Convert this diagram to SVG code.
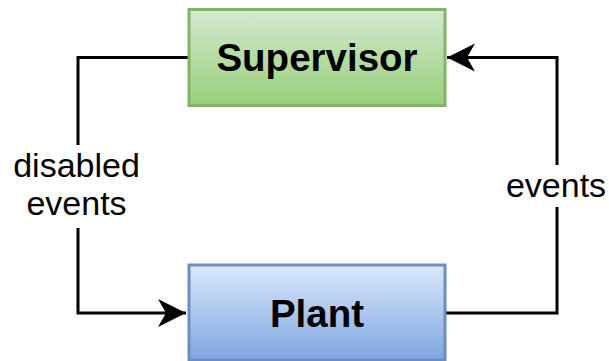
<svg xmlns="http://www.w3.org/2000/svg" width="609" height="361" viewBox="0 0 609 361">
<style>
.node{stroke-width:3}
.edge{fill:none;stroke:#000;stroke-width:3}
.lbl{font-family:"Liberation Sans",Arial,sans-serif;font-size:34px;fill:#000;text-anchor:middle}
.title{font-family:"Liberation Sans",Arial,sans-serif;font-size:38.5px;font-weight:bold;fill:#000;text-anchor:middle}
</style>
<defs>
<linearGradient id="gG" x1="0" y1="0" x2="0" y2="1"><stop offset="0" stop-color="#d5e8d4"/><stop offset="1" stop-color="#97d077"/></linearGradient>
<linearGradient id="gB" x1="0" y1="0" x2="0" y2="1"><stop offset="0" stop-color="#dae8fc"/><stop offset="1" stop-color="#7ea6e0"/></linearGradient>
<marker id="arr" markerUnits="userSpaceOnUse" markerWidth="30" markerHeight="30" viewBox="0 0 30 30" refX="28" refY="15" orient="auto">
<path d="M28,15 L0,1 L8,15 L0,29 Z" fill="#000"/>
</marker>
</defs>
<g id="connectors">
<path class="edge" d="M189,57.5 H78 V145 M78,228 V313 H186" marker-end="url(#arr)"/>
<path class="edge" d="M445,313 H557 V207 M557,165 V57.5 H447" marker-end="url(#arr)"/>
<text class="lbl" x="76.5" y="176.5">disabled</text>
<text class="lbl" x="76.5" y="215">events</text>
<text class="lbl" x="556" y="196.5">events</text>
</g>
<g id="supervisor">
<rect class="node" x="189" y="9.5" width="256" height="96" fill="url(#gG)" stroke="#82b366"/>
<text class="title" x="317" y="71">Supervisor</text>
</g>
<g id="plant">
<rect class="node" x="189" y="265" width="256" height="95" fill="url(#gB)" stroke="#6c8ebf"/>
<text class="title" x="317" y="327">Plant</text>
</g>
</svg>
